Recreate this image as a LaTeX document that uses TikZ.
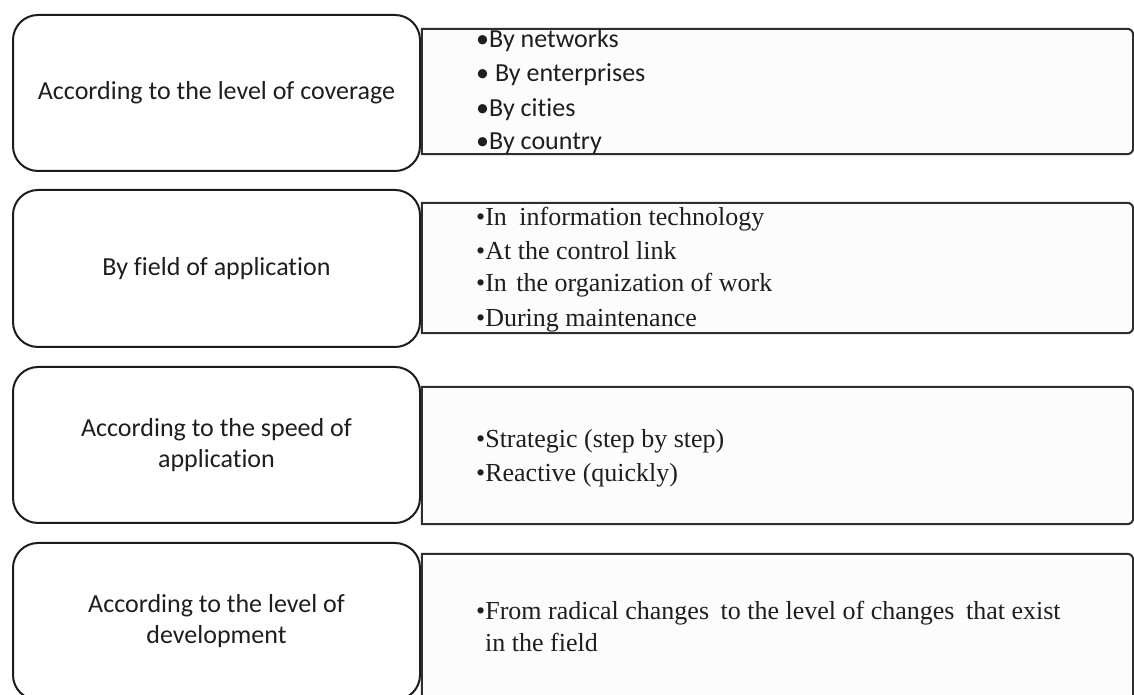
\documentclass[tikz,border=0pt]{standalone}
\usepackage{fontspec}
\setmainfont{Liberation Serif}
\newfontfamily\calibrifont[Ligatures=NoCommon]{Carlito}
\definecolor{inkline}{HTML}{1C1C1C}
\definecolor{boxline}{HTML}{2E2E2E}
\definecolor{boxfill}{HTML}{FCFCFC}
\definecolor{inktext}{HTML}{1E1E1E}
\begin{document}
\begin{tikzpicture}[x=1pt,y=1pt,
  lbox/.style={draw=inkline, line width=2pt, rounded corners=25pt,
    minimum width=407pt, minimum height=156pt, inner sep=0pt,
    align=center, text=inktext,
    font=\calibrifont\fontsize{26}{31}\selectfont},
  rbox/.style={minimum width=711pt, inner sep=0pt},
  rline/.style={draw=boxline, line width=2pt, fill=boxfill},
  sanslist/.style={anchor=base west, inner sep=0pt, text=inktext,
    font=\calibrifont\fontsize{26}{31}\selectfont},
  seriflist/.style={anchor=base west, inner sep=0pt, text=inktext,
    font=\fontsize{26}{31}\selectfont}]
\useasboundingbox (0,0) rectangle (1134,695);
\clip (0,0) rectangle (1134,695);
\fill[white] (0,0) rectangle (1134,695);

% category boxes on the left
\node[lbox] (l1) at (216.5,602) {According to the level of coverage};
\node[lbox, minimum height=157pt] (l2) at (216.5,426.5) {By field of application};
\node[lbox] (l3) at (216.5,250) {According to the speed of\\application};
\node[lbox, minimum height=157pt] (l4) at (216.5,73.5) {According to the level of\\development};

% detail boxes on the right: square on the left, rounded on the right
\node[rbox, minimum height=125pt] (r1) at (777.5,603.5) {};
\node[rbox, minimum height=130pt] (r2) at (777.5,427) {};
\node[rbox, minimum height=137pt] (r3) at (777.5,239.5) {};
\node[rbox, minimum height=171pt] (r4) at (777.5,55.5) {};
\foreach \r in {r1,r2,r3,r4}{
  \path[rline] (\r.south west) -- (\r.north west)
    -- ([xshift=-6pt]\r.north east) arc[start angle=90, end angle=0, radius=6pt]
    -- ([yshift=6pt]\r.south east) arc[start angle=0, end angle=-90, radius=6pt]
    -- cycle;
}

% items of the first box
\node[sanslist] (t11) at (476,647) {•By networks};
\node[sanslist] (t12) at (476,613) {• By enterprises};
\node[sanslist] (t13) at (476,578) {•By cities};
\node[sanslist] (t14) at (476,545) {•By country};

% items of the second box
\node[seriflist] (t21) at (476,469) {•In\hspace{6pt} information technology};
\node[seriflist] (t22) at (476,435) {•At the control link};
\node[seriflist] (t23) at (476,403) {•In\hspace{3pt} the organization of work};
\node[seriflist] (t24) at (476,368) {•During maintenance};

% items of the third box
\node[seriflist] (t31) at (476,247) {•Strategic (step by step)};
\node[seriflist] (t32) at (476,213) {•Reactive (quickly)};

% item of the fourth box
\node[seriflist] (t41) at (476,75) {•From radical changes\hspace{5pt} to the level of changes\hspace{5pt} that exist};
\node[seriflist] (t42) at (485,43) {in the field};
\end{tikzpicture}
\end{document}
